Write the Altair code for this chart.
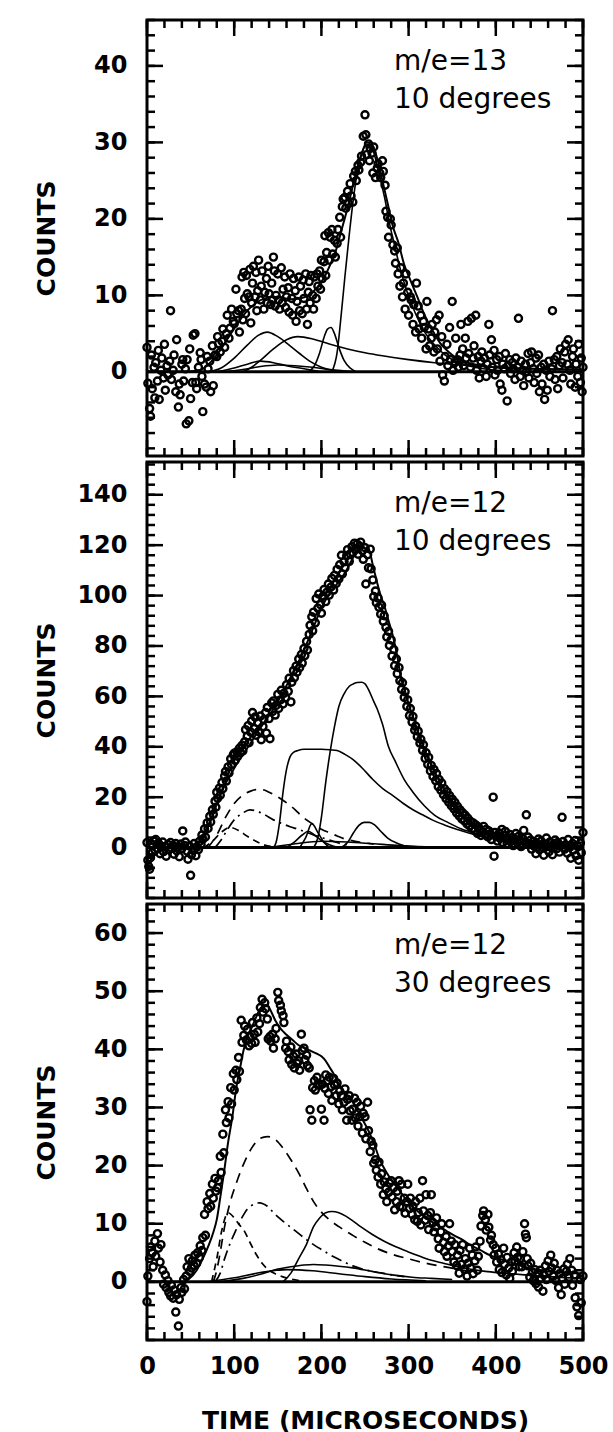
import altair as alt
import pandas as pd

FONT = "DejaVu Sans"
W = 436
H = 436

X_MAJOR = [0, 100, 200, 300, 400, 500]
X_MINOR = list(range(0, 501, 20))

# ---------------- top panel : m/e=13, 10 degrees ----------------
TOP_Y_DOMAIN = [-11, 46]
TOP_Y_MAJOR = [0, 10, 20, 30, 40]
TOP_Y_MINOR = list(range(-10, 47, 2))
TOP_LABELS = ["m/e=13", "10 degrees"]

TOP_POINTS = [
    (0, 3.2), (1, -1.5), (3, -4.8), (4, -5.8), (5, 2.2), (6, -2.2), (8, 0.6), (9, -3.4), (10, 1.2), (12, -1.2),
    (13, 2.8), (14, -3.6), (16, 0.2), (17, 1.8), (19, -0.8), (20, 3.6), (21, -2.4), (23, 0.8), (24, -0.4), (26, 1.4),
    (27, 8.0), (28, -1.0), (30, 0.2), (31, 2.2), (33, -2.6), (34, 4.2), (36, -4.6), (37, -1.6), (38, -3.0), (40, 1.0),
    (41, 1.6), (42, -1.2), (44, 0.4), (45, -6.8), (46, 1.6), (48, -6.4), (49, 3.0), (50, -3.5), (52, -1.4), (53, 4.8),
    (55, 5.0), (56, -1.4), (57, -2.2), (59, 0.6), (61, 2.5), (62, 1.6), (63, -0.6), (64, -5.2), (66, -1.6), (68, -2.0),
    (69, 2.0), (70, 0.4), (72, 1.4), (73, -2.6), (75, 3.4), (76, -1.8), (78, 2.2), (80, 2.0), (81, 4.6), (82, 3.7),
    (84, 2.6), (86, 4.0), (87, 5.6), (89, 3.2), (91, 5.0), (92, 7.4), (94, 4.4), (95, 5.7), (97, 8.2), (99, 6.6),
    (100, 6.3), (102, 10.8), (103, 7.6), (105, 8.0), (106, 5.2), (108, 8.2), (109, 12.4), (110, 6.8), (111, 13.0), (112, 9.6),
    (113, 7.6), (114, 12.6), (115, 10.2), (117, 9.8), (118, 13.4), (119, 6.4), (120, 9.0), (121, 11.6), (122, 13.8), (124, 9.8),
    (125, 13.0), (126, 8.0), (127, 10.6), (128, 14.6), (130, 9.4), (131, 11.2), (132, 13.2), (134, 8.2), (135, 10.4), (137, 12.2),
    (138, 9.0), (139, 13.8), (140, 10.2), (142, 8.8), (143, 11.6), (144, 9.4), (145, 15.0), (146, 13.2), (147, 8.6), (148, 10.0),
    (150, 12.8), (151, 9.4), (152, 8.2), (154, 13.6), (155, 9.0), (156, 10.8), (158, 12.4), (159, 8.4), (160, 9.8), (162, 11.0),
    (163, 7.8), (164, 12.8), (166, 9.6), (167, 7.4), (168, 12.2), (170, 10.6), (171, 6.6), (172, 9.2), (174, 12.4), (175, 8.0),
    (176, 11.2), (178, 7.6), (179, 12.0), (180, 9.6), (182, 12.8), (183, 8.2), (184, 6.2), (185, 10.4), (186, 11.8), (187, 9.0),
    (188, 12.6), (190, 10.0), (191, 8.2), (192, 12.4), (194, 9.6), (195, 12.8), (196, 11.2), (198, 13.2), (199, 10.8), (200, 14.6),
    (201, 12.2), (203, 14.4), (204, 17.8), (205, 12.6), (206, 15.6), (208, 18.2), (209, 14.6), (210, 17.6), (212, 18.6), (213, 15.4),
    (215, 17.2), (216, 15.0), (218, 16.8), (219, 18.6), (221, 20.2), (222, 17.6), (224, 21.6), (225, 22.6), (227, 22.8), (228, 21.4),
    (230, 23.6), (231, 22.0), (233, 24.6), (234, 23.0), (236, 22.2), (237, 25.6), (239, 26.2), (240, 25.0), (242, 27.0), (243, 26.4),
    (245, 27.4), (246, 28.2), (248, 30.8), (250, 33.6), (251, 31.0), (252, 28.4), (254, 29.8), (255, 27.6), (256, 29.2), (258, 28.6),
    (259, 26.0), (260, 29.4), (262, 25.4), (264, 26.6), (265, 27.2), (267, 26.0), (268, 25.4), (270, 27.6), (271, 26.2), (273, 24.4),
    (274, 21.0), (276, 20.2), (277, 17.6), (279, 20.0), (280, 19.2), (282, 16.6), (284, 15.8), (285, 14.2), (287, 16.2), (288, 12.8),
    (290, 11.2), (291, 13.6), (293, 9.8), (294, 11.6), (296, 8.2), (297, 12.8), (299, 10.4), (300, 7.4), (302, 9.8), (303, 9.4),
    (305, 6.2), (306, 8.8), (308, 5.2), (309, 11.6), (311, 8.6), (312, 5.6), (314, 7.4), (315, 4.4), (317, 6.6), (318, 5.8),
    (320, 3.0), (321, 9.2), (323, 5.6), (324, 3.4), (326, 4.4), (327, 6.2), (329, 2.6), (330, 5.2), (332, 6.8), (333, 3.0),
    (335, 7.4), (336, 1.4), (338, 4.6), (339, -0.4), (341, -1.2), (342, 2.0), (344, 3.6), (345, 0.8), (347, 5.8), (348, 1.6),
    (350, 9.2), (351, 0.2), (353, 1.2), (354, 4.4), (356, 1.6), (357, 0.6), (359, 2.2), (360, 6.2), (362, 3.0), (363, 0.8),
    (365, 4.4), (366, 1.8), (368, 6.6), (369, 2.4), (371, 0.6), (372, 7.0), (374, 1.8), (375, 3.4), (377, 7.4), (378, 0.2),
    (380, 2.0), (381, -0.8), (383, 1.4), (384, 2.6), (386, 0.4), (387, 1.8), (389, -0.6), (390, 1.0), (392, 6.2), (393, 2.2),
    (395, 4.2), (396, 0.6), (398, 2.8), (399, -0.4), (401, 1.6), (402, 0.2), (404, 2.0), (405, -1.6), (407, -2.4), (408, 1.0),
    (410, 0.4), (411, 2.4), (413, -3.8), (414, 0.8), (416, 1.6), (417, -0.2), (419, 1.2), (420, 0.4), (422, -1.0), (423, 1.8),
    (425, 0.6), (426, 7.0), (428, -0.6), (429, 1.4), (431, 0.2), (432, -1.8), (434, 1.0), (435, 0.0), (437, 2.4), (438, -0.8),
    (440, 1.2), (441, 2.6), (443, 0.4), (444, -1.4), (446, 1.8), (447, -0.2), (449, 2.2), (450, -2.6), (452, 0.6), (453, -1.6),
    (455, 1.0), (456, -3.6), (458, 0.2), (459, -2.4), (461, 1.4), (462, -0.6), (464, 0.4), (465, 8.0), (467, 1.6), (468, -1.0),
    (470, 2.0), (471, -2.2), (473, 0.8), (474, 3.0), (476, 1.2), (477, -0.8), (479, 2.6), (480, 3.6), (482, 1.0), (483, 4.2),
    (485, 0.2), (486, -1.6), (488, 2.0), (489, 3.0), (491, -2.0), (492, 1.0), (494, -0.6), (495, 3.6), (497, -1.4), (498, 1.8),
    (499, -2.6), (500, 0.6),
]

TOP_FIT_T = [0, 40, 60, 75, 85, 95, 105, 115, 125, 135, 145, 155, 165, 175, 185, 195, 203, 210, 217, 223, 229, 235, 241,
             247, 252, 256, 260, 265, 270, 276, 282, 288, 295, 302, 310, 318, 327, 336, 345, 355, 365, 375, 390, 410, 440,
             470, 500]
TOP_FIT_V = [0, 0, 0.2, 1.5, 3.0, 4.8, 6.5, 8.0, 9.0, 9.6, 9.8, 9.7, 9.5, 9.6, 10.0, 11.0, 12.3, 14.0, 16.0, 18.5, 21.0,
             23.8, 26.5, 28.8, 30.0, 30.0, 29.2, 27.5, 25.0, 22.0, 19.0, 17.0, 14.0, 12.0, 9.8, 7.5, 5.5, 3.8, 2.7, 1.8,
             1.3, 1.0, 0.7, 0.5, 0.4, 0.3, 0.3]
TOP_C1_T = [212, 218, 223, 227, 232, 236, 241, 246, 250, 255, 259, 264, 268, 273, 277, 284, 291, 299, 308, 318, 330, 342,
            356, 372, 392, 420]
TOP_C1_V = [0, 2.5, 7.8, 12.5, 18.0, 22.0, 26.0, 28.5, 29.5, 29.8, 29.0, 27.0, 25.0, 22.5, 20.0, 16.5, 13.2, 10.2, 7.6,
            5.3, 3.5, 2.2, 1.3, 0.7, 0.3, 0.1]
TOP_C2_T = [70, 85, 100, 115, 128, 138, 150, 162, 175, 188, 200, 212, 225]
TOP_C2_V = [0, 0.5, 1.8, 3.5, 4.8, 5.2, 4.6, 3.6, 2.4, 1.3, 0.6, 0.2, 0]
TOP_C3_T = [110, 120, 130, 145, 160, 173, 190, 210, 230, 250, 270, 300, 330, 360, 400, 450, 500]
TOP_C3_V = [0, 0.6, 1.5, 3.0, 4.2, 4.6, 4.3, 3.6, 3.0, 2.5, 2.1, 1.6, 1.2, 0.9, 0.6, 0.4, 0.3]
TOP_C4_T = [185, 192, 198, 203, 207, 211, 215, 220, 226, 233, 240]
TOP_C4_V = [0, 0.8, 2.5, 4.5, 5.6, 5.8, 5.0, 3.2, 1.5, 0.5, 0]
TOP_C5_T = [80, 100, 115, 130, 145, 160, 180, 200]
TOP_C5_V = [0, 0.5, 1.0, 1.4, 1.2, 0.8, 0.4, 0]
TOP_C6_T = [90, 110, 130, 150, 170, 190, 210, 240]
TOP_C6_V = [0, 0.3, 0.7, 0.9, 0.8, 0.6, 0.3, 0]

TOP_CURVES = [
    ("fit", TOP_FIT_T, TOP_FIT_V),
    ("solid", TOP_C1_T, TOP_C1_V),
    ("solid", TOP_C2_T, TOP_C2_V),
    ("solid", TOP_C3_T, TOP_C3_V),
    ("solid", TOP_C4_T, TOP_C4_V),
    ("solid", TOP_C5_T, TOP_C5_V),
    ("solid", TOP_C6_T, TOP_C6_V),
]

# ---------------- middle panel : m/e=12, 10 degrees ----------------
MID_Y_DOMAIN = [-20, 153]
MID_Y_MAJOR = [0, 20, 40, 60, 80, 100, 120, 140]
MID_Y_MINOR = list(range(-20, 153, 4))
MID_LABELS = ["m/e=12", "10 degrees"]

MID_POINTS = [
    (0, 2), (1, -5), (2, -7.5), (3, -8.6), (4, -4), (5, 1.5), (6, -2), (8, 2.6), (9, -1), (10, 3.2),
    (12, -0.5), (13, 1.8), (15, -2.4), (16, 0.6), (18, 2.2), (19, -1.6), (21, 0.4), (22, -3.4), (24, 1.2), (25, -0.8),
    (27, 2.0), (28, -0.2), (30, 0.8), (31, -2.6), (33, 1.6), (34, -1.2), (36, 0.2), (37, -3.6), (39, 1.4), (40, -0.4),
    (41, 6.6), (43, 0.8), (44, 2.2), (46, -1.4), (47, -4.6), (49, 0.6), (50, -11), (51, -2.8), (53, -1.0), (54, 1.6),
    (56, -3.2), (57, 0.2), (59, -0.8), (60, 2.4), (62, 1.2), (63, 5.0), (64, 3.4), (66, 7.4), (67, 4.2), (69, 9.8),
    (70, 7.6), (72, 12.4), (73, 10.2), (75, 15.0), (76, 13.2), (78, 18.4), (79, 16.0), (80, 22.0), (81, 19.6), (83, 23.6),
    (84, 20.8), (86, 25.8), (87, 23.4), (89, 28.4), (90, 30.2), (91, 26.4), (93, 32.0), (94, 29.6), (96, 35.2), (97, 33.0),
    (99, 36.8), (100, 37.4), (101, 34.6), (103, 38.0), (104, 36.2), (106, 39.4), (107, 37.6), (109, 40.6), (110, 38.4), (112, 42.0),
    (113, 46.8), (115, 44.2), (116, 48.4), (117, 41.6), (119, 45.8), (120, 50.2), (121, 53.6), (123, 47.2), (124, 51.8), (125, 44.6),
    (127, 49.6), (128, 46.0), (130, 52.2), (131, 42.8), (133, 48.0), (134, 50.8), (136, 53.6), (137, 45.4), (138, 55.6), (140, 51.2),
    (141, 43.2), (143, 57.4), (144, 54.0), (145, 58.2), (147, 52.6), (148, 56.4), (150, 60.8), (151, 55.2), (153, 58.6), (154, 62.4),
    (156, 57.0), (157, 61.2), (159, 59.4), (160, 64.6), (162, 62.0), (163, 67.2), (165, 57.8), (166, 65.6), (168, 70.2), (169, 67.4),
    (171, 72.0), (172, 69.6), (174, 74.8), (175, 71.4), (177, 76.6), (178, 73.2), (180, 79.0), (181, 76.2), (183, 81.8), (184, 78.4),
    (186, 84.6), (187, 88.2), (189, 91.6), (190, 86.0), (191, 93.4), (193, 89.2), (194, 98.8), (196, 95.0), (197, 100.6), (199, 96.4),
    (200, 93.0), (202, 99.8), (203, 102.4), (205, 97.6), (206, 101.2), (208, 104.6), (209, 100.2), (211, 103.4), (212, 106.8), (214, 102.2),
    (215, 108.0), (217, 104.8), (218, 110.4), (220, 106.6), (221, 112.2), (223, 116.0), (224, 108.6), (226, 113.4), (227, 111.0), (229, 115.8),
    (230, 118.2), (232, 113.6), (233, 116.6), (235, 119.4), (236, 117.0), (238, 120.8), (239, 118.2), (241, 120.4), (242, 116.4), (244, 119.6),
    (245, 121.2), (247, 117.8), (248, 114.4), (250, 119.0), (251, 104.6), (253, 116.2), (254, 111.0), (256, 118.4), (257, 110.6), (259, 106.2),
    (260, 99.6), (262, 101.8), (263, 97.2), (265, 99.0), (266, 95.4), (268, 92.6), (269, 96.2), (271, 89.8), (272, 92.0), (274, 87.4),
    (275, 83.6), (277, 85.8), (278, 80.2), (280, 82.4), (281, 76.0), (283, 78.6), (284, 72.2), (286, 74.8), (287, 69.0), (289, 71.4),
    (290, 66.2), (292, 62.8), (293, 65.4), (295, 59.6), (296, 61.8), (298, 56.0), (299, 58.6), (301, 52.4), (302, 55.2), (304, 49.8),
    (305, 52.0), (307, 46.6), (308, 48.2), (310, 44.0), (311, 46.2), (313, 41.4), (314, 43.0), (316, 38.6), (317, 40.8), (319, 35.4),
    (320, 37.6), (322, 33.0), (323, 35.8), (325, 30.4), (326, 32.6), (328, 28.2), (329, 31.0), (331, 26.6), (332, 29.4), (334, 24.2),
    (335, 27.0), (337, 22.8), (338, 25.6), (340, 21.0), (341, 23.4), (343, 19.4), (344, 22.2), (346, 18.0), (347, 20.6), (349, 16.6),
    (350, 19.2), (352, 15.4), (353, 18.0), (355, 13.8), (356, 16.4), (358, 12.6), (359, 15.0), (361, 11.4), (362, 13.8), (364, 10.6),
    (365, 12.8), (367, 9.4), (368, 11.6), (370, 8.6), (371, 10.4), (373, 7.6), (374, 9.8), (376, 6.8), (377, 9.0), (379, 5.6),
    (380, 8.2), (382, 7.0), (383, 4.8), (385, 6.2), (386, 8.4), (388, 5.0), (389, 7.2), (391, 4.2), (392, 6.6), (394, 5.4),
    (395, 3.2), (397, 20.0), (398, -3.4), (399, 6.0), (401, 4.4), (402, 2.6), (404, 5.8), (405, 3.6), (407, 7.2), (408, 2.0),
    (410, 4.8), (411, 6.4), (413, 1.6), (414, 3.8), (416, 5.2), (417, 2.4), (419, 4.0), (420, 0.8), (422, 3.2), (423, 5.6),
    (425, 1.8), (426, 4.4), (428, 2.8), (429, 0.4), (431, 3.6), (432, 6.8), (434, 2.0), (435, 13.0), (437, 4.2), (438, 1.2),
    (440, 3.0), (441, -0.6), (443, 2.4), (444, 0.6), (446, -2.4), (447, 1.8), (449, 3.4), (450, -0.8), (452, 2.6), (453, 0.2),
    (455, -3.0), (456, 1.4), (458, 3.8), (459, 0.4), (461, -1.6), (462, 2.2), (464, 0.0), (465, -2.8), (467, 1.6), (468, 3.0),
    (470, -0.4), (471, 2.0), (473, -1.8), (474, 0.8), (476, 12.0), (477, 2.4), (479, -0.6), (480, 1.0), (482, -2.2), (483, 3.2),
    (485, 0.2), (486, -4.2), (488, 1.6), (489, -1.0), (491, 2.8), (492, -3.2), (494, 0.4), (495, -5.0), (497, 1.8), (498, -2.0),
    (500, 6.0),
]

MID_FIT_T = [0, 50, 58, 65, 73, 82, 91, 100, 109, 118, 127, 136, 145, 155, 164, 173, 182, 191, 200, 207, 214, 221, 227,
             234, 241, 246, 250, 255, 259, 264, 268, 273, 277, 282, 287, 291, 296, 300, 305, 311, 318, 325, 332, 341, 350,
             360, 373, 385, 395, 407, 418, 430, 441, 453, 464, 480, 500]
MID_FIT_V = [0, 0, 1, 5, 11, 19, 26, 31.5, 36.5, 41, 46, 50.5, 55, 61, 67, 73, 80, 87.5, 95, 99.5, 103, 106, 109, 113.5,
             118, 120, 120.5, 118, 112, 105, 100, 95, 90, 84, 76, 68, 62, 57, 52, 45.5, 39, 33.5, 28.5, 23, 18, 14, 10,
             7.5, 6, 4.8, 4, 3.2, 2.7, 2.3, 2, 2, 2]
MID_C1_T = [191, 196, 200, 205, 210, 215, 220, 226, 232, 237, 241, 246, 250, 255, 260, 264, 270, 277, 285, 295, 305, 318,
            330, 345, 360, 373, 386, 400, 416, 432, 455, 480, 500]
MID_C1_V = [0, 4, 12, 26, 38, 48, 56, 61, 64, 65, 65.5, 65.6, 65, 62, 58, 55, 49, 40, 34, 27, 22, 16.6, 12.8, 10, 7.5,
            6, 4.5, 3.3, 2.2, 1.3, 0.7, 0.4, 0.3]
MID_C2_T = [145, 148, 152, 156, 160, 164, 168, 173, 180, 191, 200, 210, 218, 227, 236, 247, 259, 270, 282, 294, 305, 316,
            327, 341, 355, 368, 382, 400, 418, 440, 470, 500]
MID_C2_V = [0, 2, 10, 22, 31, 36, 37.8, 38.5, 39, 39, 39, 38.8, 38.5, 37, 35, 31.5, 27, 23.5, 20.6, 17.5, 15, 13, 11, 9,
            7.3, 5.9, 4.6, 3.3, 2.3, 1.5, 0.9, 0.6]
MID_C3_T = [70, 80, 91, 100, 109, 118, 125, 132, 140, 148, 155, 163, 170, 177, 185, 193, 200, 210, 218, 226, 240, 260]
MID_C3_V = [0, 5, 12.6, 17.5, 20.6, 22.3, 23, 23, 22, 20.5, 19, 17, 15, 12.6, 10.5, 8.7, 7.3, 5.8, 4.6, 3.5, 2.4, 1.4]
MID_C4_T = [78, 85, 92, 100, 109, 118, 125, 135, 145, 155, 164, 173, 182, 191, 200, 209, 218, 230]
MID_C4_V = [0, 3, 7, 11, 13.5, 15, 14.6, 13, 11, 9.5, 8.3, 7.3, 6.2, 5, 4, 3, 2, 1]
MID_C5_T = [65, 75, 85, 95, 105, 115, 125, 135, 145]
MID_C5_V = [0, 2.5, 6, 8, 6.8, 4.5, 2.5, 1, 0.3]
MID_C6_T = [222, 230, 237, 243, 249, 255, 261, 268, 276, 285, 295, 305]
MID_C6_V = [0, 2, 6, 8.8, 10, 10, 9, 6.5, 3.8, 2, 0.7, 0]
MID_C7_T = [160, 170, 178, 185, 192, 200, 210, 220]
MID_C7_V = [0, 2.5, 5, 6.5, 5, 2.8, 1, 0]
MID_C8_T = [175, 182, 189, 196, 203, 210]
MID_C8_V = [0, 4, 9.5, 6, 2, 0]
MID_C9_T = [140, 170, 200, 230, 260, 290, 320]
MID_C9_V = [0, 1.5, 2.5, 2.2, 1.5, 0.8, 0.3]

MID_CURVES = [
    ("fit", MID_FIT_T, MID_FIT_V),
    ("solid", MID_C1_T, MID_C1_V),
    ("solid", MID_C2_T, MID_C2_V),
    ("dash", MID_C3_T, MID_C3_V),
    ("dashdot", MID_C4_T, MID_C4_V),
    ("longdash", MID_C5_T, MID_C5_V),
    ("solid", MID_C6_T, MID_C6_V),
    ("solid", MID_C7_T, MID_C7_V),
    ("solid", MID_C8_T, MID_C8_V),
    ("solid", MID_C9_T, MID_C9_V),
]

# ---------------- bottom panel : m/e=12, 30 degrees ----------------
BOT_Y_DOMAIN = [-10, 65]
BOT_Y_MAJOR = [0, 10, 20, 30, 40, 50, 60]
BOT_Y_MINOR = list(range(-10, 66, 2))
BOT_LABELS = ["m/e=12", "30 degrees"]

BOT_POINTS = [
    (0, -3.4), (1, 1.0), (3, 4.0), (4, 6.0), (6, 5.0), (7, 2.6), (9, 7.0), (10, 4.4), (12, 8.3), (13, 5.8),
    (15, 3.4), (16, 6.4), (18, 2.0), (19, -0.4), (21, 1.2), (22, -1.0), (24, 0.2), (25, -1.8), (27, -2.4), (28, -0.6),
    (30, -2.8), (31, -1.4), (33, -5.2), (34, -2.2), (36, -7.6), (37, -3.0), (39, -1.0), (40, -1.8), (42, 0.4), (43, -1.2),
    (45, 1.0), (46, 2.6), (48, 4.0), (49, 1.8), (51, 2.4), (52, 3.6), (54, 2.8), (55, 4.6), (57, 3.2), (58, 5.0),
    (60, 4.2), (61, 6.2), (63, 5.4), (64, 7.6), (66, 11.6), (67, 8.0), (69, 13.8), (70, 12.6), (72, 15.2), (73, 13.0),
    (75, 16.8), (76, 14.4), (78, 17.8), (79, 15.6), (81, 16.2), (82, 17.4), (84, 21.6), (85, 18.8), (87, 25.4), (88, 22.2),
    (90, 29.6), (91, 27.4), (93, 31.0), (94, 28.2), (96, 33.4), (97, 30.6), (99, 35.8), (100, 33.0), (102, 36.4), (103, 34.8),
    (105, 38.6), (106, 36.2), (108, 45.0), (109, 41.2), (111, 42.4), (112, 44.0), (114, 41.6), (115, 43.4), (117, 40.6), (118, 42.2),
    (120, 41.0), (121, 44.6), (123, 42.6), (124, 41.2), (126, 45.4), (127, 43.0), (129, 44.4), (130, 47.2), (132, 48.6), (133, 46.4),
    (135, 48.0), (136, 47.0), (138, 45.2), (139, 41.8), (141, 42.2), (142, 41.4), (144, 42.6), (145, 40.2), (147, 41.8), (148, 43.6),
    (150, 49.8), (151, 48.4), (153, 47.6), (154, 46.6), (156, 45.8), (157, 44.6), (159, 40.2), (160, 41.4), (162, 39.6), (163, 38.2),
    (165, 40.4), (166, 37.4), (168, 38.8), (169, 36.8), (171, 39.2), (172, 37.6), (174, 38.0), (175, 36.4), (177, 42.6), (178, 39.8),
    (180, 40.2), (181, 38.2), (183, 39.0), (184, 37.2), (186, 36.8), (187, 29.6), (189, 27.8), (190, 33.4), (192, 34.6), (193, 33.0),
    (195, 35.2), (196, 34.0), (198, 33.8), (200, 29.7), (201, 34.0), (203, 27.8), (204, 33.3), (205, 35.6), (207, 34.6), (208, 32.4),
    (209, 35.2), (211, 33.6), (212, 31.2), (214, 35.0), (215, 33.9), (217, 32.0), (218, 34.2), (220, 30.6), (221, 32.8), (223, 32.0),
    (224, 29.6), (226, 30.9), (227, 33.2), (229, 27.8), (230, 31.4), (232, 32.0), (233, 29.4), (235, 27.8), (236, 29.7), (238, 31.6),
    (239, 28.2), (241, 30.9), (242, 26.8), (244, 28.4), (245, 30.2), (247, 25.6), (248, 29.0), (250, 28.4), (251, 24.6), (253, 30.9),
    (254, 26.0), (256, 22.4), (257, 24.2), (259, 23.5), (260, 20.4), (262, 21.0), (263, 19.2), (265, 18.0), (266, 20.6), (268, 16.8),
    (269, 18.6), (271, 15.0), (272, 17.2), (274, 16.0), (275, 13.8), (277, 15.4), (278, 17.0), (280, 17.4), (281, 14.6), (283, 16.2),
    (284, 12.4), (286, 13.8), (287, 15.6), (289, 17.4), (290, 13.0), (292, 16.8), (293, 12.8), (295, 14.4), (296, 11.8), (298, 13.8),
    (299, 16.8), (301, 12.6), (302, 14.4), (304, 11.6), (305, 13.0), (307, 10.7), (308, 13.8), (310, 10.4), (311, 11.9), (313, 14.4),
    (314, 9.8), (316, 17.4), (317, 12.2), (319, 10.6), (320, 15.0), (322, 11.4), (323, 9.0), (325, 11.9), (326, 15.0), (328, 10.2),
    (329, 8.6), (331, 9.5), (332, 11.0), (334, 7.4), (335, 5.8), (337, 8.6), (338, 10.0), (340, 6.8), (341, 5.2), (343, 7.8),
    (344, 4.4), (346, 6.2), (347, 10.0), (349, 7.0), (350, 5.2), (352, 3.4), (353, 6.4), (355, 2.8), (356, 4.6), (358, 1.5),
    (359, 5.4), (361, 3.0), (362, 6.4), (364, 2.2), (365, 4.0), (367, 1.0), (368, 3.2), (370, 5.8), (371, 2.4), (373, 4.6),
    (374, 1.4), (376, 3.6), (377, 6.0), (379, 2.0), (380, 4.4), (382, 7.0), (383, 9.6), (385, 11.4), (386, 12.2), (388, 10.7),
    (389, 8.9), (391, 11.6), (392, 9.4), (394, 7.2), (395, 8.0), (397, 6.4), (398, 4.6), (400, 5.8), (401, 3.4), (403, 4.8),
    (404, 2.1), (406, 3.8), (407, 1.6), (409, 5.8), (410, 3.0), (412, 1.2), (413, 4.2), (415, 2.4), (416, 0.6), (418, 3.4),
    (419, 1.8), (421, 5.0), (422, 3.6), (424, 6.0), (425, 4.2), (427, 2.6), (428, 4.0), (430, 2.6), (431, 5.2), (433, 10.0),
    (434, 8.2), (435, 7.6), (436, 4.0), (437, 2.75), (439, 0.8), (440, 3.2), (442, 1.6), (443, 0.2), (445, 2.1), (446, -0.3),
    (448, 1.4), (449, -0.9), (451, 2.0), (452, 0.6), (454, -1.6), (455, 1.2), (457, 2.75), (458, 0.4), (460, 3.6), (461, 1.8),
    (463, 4.6), (464, 2.4), (466, 1.0), (467, 3.2), (469, 0.2), (470, 2.0), (472, -1.0), (473, 1.4), (475, -2.2), (476, 0.6),
    (478, 2.2), (479, -0.4), (481, 1.8), (482, 3.0), (484, 0.8), (485, 4.0), (487, 2.0), (488, -0.6), (490, 1.2), (491, -2.75),
    (493, -4.3), (495, -5.8), (497, 0.4), (498, -3.6), (500, 1.0),
]

BOT_FIT_T = [0, 40, 48, 57, 64, 71, 76, 80, 84, 88, 93, 98, 102, 107, 111, 116, 120, 125, 129, 134, 138, 143, 147, 152,
             160, 167, 174, 181, 187, 194, 200, 205, 209, 214, 218, 223, 229, 236, 245, 254, 261, 267, 274, 281, 290, 299,
             308, 317, 326, 335, 344, 352, 361, 370, 382, 393, 404, 415, 426, 437, 448, 460, 475, 490, 500]
BOT_FIT_V = [0, 0, 0.5, 2, 4, 6.4, 8.5, 10.7, 14.5, 18.5, 24, 28.5, 33, 37, 40, 42.5, 43.7, 45.5, 46.8, 47.5, 47.5, 46.3,
             45, 43.8, 42.5, 41.6, 40.7, 40.2, 39.8, 39.3, 38.8, 38, 37, 35.8, 34.6, 33.3, 32.2, 30.9, 28.5, 26, 23.5, 21,
             19, 17.4, 15.6, 13.8, 12.5, 11.3, 10.4, 9.5, 8.7, 8, 7.3, 6.4, 5.5, 4.6, 4, 3.4, 2.9, 2.4, 2.1, 1.8, 1.6,
             1.5, 1.5]
BOT_C1_T = [76, 80, 85, 89, 95, 102, 110, 120, 129, 138, 147, 156, 165, 174, 182, 191, 200, 209, 220, 236, 250, 263, 280,
            299, 317, 335, 352, 370]
BOT_C1_V = [0, 2, 6, 9.5, 13.5, 16.8, 20, 23, 24.6, 25, 24.5, 23, 21, 18.7, 16.3, 13.8, 12, 10.7, 9.5, 8, 6.8, 5.8, 4.8,
            4, 3.3, 2.75, 2.3, 1.8]
BOT_C2_T = [78, 84, 89, 95, 102, 108, 115, 122, 129, 138, 147, 158, 169, 180, 191, 203, 214, 225, 236, 247, 258, 270, 281,
            295]
BOT_C2_V = [0, 1.5, 4, 6.5, 8.9, 10.8, 12.5, 13.3, 13.6, 13, 11.6, 10.2, 8.9, 7.6, 6.4, 5.3, 4.3, 3.5, 2.75, 2.2, 1.8,
            1.5, 1.2, 0.9]
BOT_C3_T = [74, 80, 86, 93, 100, 106, 111, 118, 125, 132, 140, 147, 155, 165, 175]
BOT_C3_V = [0, 4, 9, 11.9, 11, 9.8, 8.9, 6.8, 4.8, 3.2, 2, 1.4, 0.9, 0.5, 0.2]
BOT_C4_T = [156, 165, 174, 183, 191, 198, 205, 212, 220, 228, 236, 245, 258, 272, 286, 299, 313, 326, 340, 352, 370, 388,
            410, 433, 460, 496]
BOT_C4_V = [0, 1.5, 4, 6.5, 9.5, 11, 11.9, 12.1, 11.9, 11.3, 10.5, 9.5, 8.2, 7, 6, 5.2, 4.4, 3.7, 3.2, 2.75, 2.2, 1.8, 1.5,
            1.2, 0.9, 0.6]
BOT_C5_T = [84, 110, 130, 147, 165, 180, 191, 205, 220, 236, 258, 281, 304, 326, 350]
BOT_C5_V = [0, 0.6, 1.3, 2.1, 2.6, 2.9, 3, 2.9, 2.7, 2.4, 1.8, 1.2, 0.8, 0.6, 0.4]
BOT_C6_T = [70, 100, 130, 160, 190, 220, 250, 280, 320]
BOT_C6_V = [0, 0.7, 1.6, 2.1, 1.9, 1.4, 0.9, 0.5, 0.2]

BOT_CURVES = [
    ("fit", BOT_FIT_T, BOT_FIT_V),
    ("dash", BOT_C1_T, BOT_C1_V),
    ("dashdot", BOT_C2_T, BOT_C2_V),
    ("longdash", BOT_C3_T, BOT_C3_V),
    ("solid", BOT_C4_T, BOT_C4_V),
    ("solid", BOT_C5_T, BOT_C5_V),
    ("solid", BOT_C6_T, BOT_C6_V),
]

STYLES = {
    "fit": dict(strokeWidth=2.0),
    "solid": dict(strokeWidth=1.6),
    "dash": dict(strokeWidth=1.7, strokeDash=[10, 7]),
    "dashdot": dict(strokeWidth=1.7, strokeDash=[11, 5, 2, 5]),
    "longdash": dict(strokeWidth=1.7, strokeDash=[7, 5]),
}

MAJOR_LEN = 16
MINOR_LEN = 8
TICK_W = 2.5


def panel(points, curves, ydom, ymajor, yminor, labels, bottom):
    xsc = alt.Scale(domain=[0, 500], nice=False, zero=False)
    ysc = alt.Scale(domain=ydom, nice=False, zero=False)
    if bottom:
        xax = alt.Axis(values=X_MAJOR, title="TIME (MICROSECONDS)", ticks=False, tickSize=0, domain=False,
                       grid=False, labelFont=FONT, labelFontSize=24, labelFontWeight="bold",
                       labelColor="black", labelPadding=14, labelFlush=False, labelOverlap=False,
                       titleFont=FONT, titleFontSize=25, titleFontWeight="bold", titleColor="black",
                       titlePadding=30)
    else:
        xax = None
    yax = alt.Axis(values=ymajor, title="COUNTS", ticks=False, tickSize=0, domain=False, grid=False,
                   labelFont=FONT, labelFontSize=24, labelFontWeight="bold", labelColor="black",
                   labelPadding=20, labelOverlap=False,
                   titleFont=FONT, titleFontSize=25, titleFontWeight="bold", titleColor="black",
                   titleX=-101, titleY=H / 2, titleAngle=270, titleAlign="center", titleBaseline="middle")

    def X():
        return alt.X("t:Q", scale=xsc, axis=xax)

    def Y():
        return alt.Y("v:Q", scale=ysc, axis=yax)

    layers = []
    pdf = pd.DataFrame(points, columns=["t", "v"])
    layers.append(alt.Chart(pdf).mark_point(shape="circle", filled=False, size=50, strokeWidth=2.4,
                                            color="black", opacity=1).encode(x=X(), y=Y()))

    # zero baseline
    layers.append(alt.Chart(pd.DataFrame({"v": [0]})).mark_rule(color="black", strokeWidth=3).encode(y=Y()))

    rows = []
    for i, (style, ts, vs) in enumerate(curves):
        for t, v in zip(ts, vs):
            rows.append({"t": t, "v": v, "c": i, "s": style})
    cdf = pd.DataFrame(rows)
    for style, props in STYLES.items():
        sub = cdf[cdf["s"] == style]
        if len(sub) == 0:
            continue
        layers.append(alt.Chart(sub).mark_line(color="black", interpolate="monotone", **props).encode(
            x=X(), y=Y(), detail="c:N"))

    # inward ticks on all four sides
    for vals, ln in ((X_MINOR, MINOR_LEN), (X_MAJOR, MAJOR_LEN)):
        tdf = pd.DataFrame({"t": vals})
        layers.append(alt.Chart(tdf).mark_rule(color="black", strokeWidth=TICK_W).encode(
            x=X(), y=alt.value(0), y2=alt.value(ln)))
        layers.append(alt.Chart(tdf).mark_rule(color="black", strokeWidth=TICK_W).encode(
            x=X(), y=alt.value(H), y2=alt.value(H - ln)))
    for vals, ln in ((yminor, MINOR_LEN), (ymajor, MAJOR_LEN)):
        tdf = pd.DataFrame({"v": vals})
        layers.append(alt.Chart(tdf).mark_rule(color="black", strokeWidth=TICK_W).encode(
            y=Y(), x=alt.value(0), x2=alt.value(ln)))
        layers.append(alt.Chart(tdf).mark_rule(color="black", strokeWidth=TICK_W).encode(
            y=Y(), x=alt.value(W), x2=alt.value(W - ln)))

    # annotation
    for txt, ypos in zip(labels, (42, 80)):
        layers.append(alt.Chart(pd.DataFrame({"s": [txt]})).mark_text(
            align="left", baseline="middle", font=FONT, fontSize=28, color="black").encode(
            x=alt.value(247), y=alt.value(ypos), text="s:N"))

    return alt.layer(*layers).properties(width=W, height=H)


top = panel(TOP_POINTS, TOP_CURVES, TOP_Y_DOMAIN, TOP_Y_MAJOR, TOP_Y_MINOR, TOP_LABELS, False)
mid = panel(MID_POINTS, MID_CURVES, MID_Y_DOMAIN, MID_Y_MAJOR, MID_Y_MINOR, MID_LABELS, False)
bot = panel(BOT_POINTS, BOT_CURVES, BOT_Y_DOMAIN, BOT_Y_MAJOR, BOT_Y_MINOR, BOT_LABELS, True)

chart = alt.vconcat(top, mid, bot, spacing=0).properties(
    padding={"left": 32, "top": 17, "right": 2, "bottom": 0},
    background="white",
).configure_view(stroke="black", strokeWidth=3)

chart.save("out.html", embed_options={"renderer": "svg", "actions": False})
